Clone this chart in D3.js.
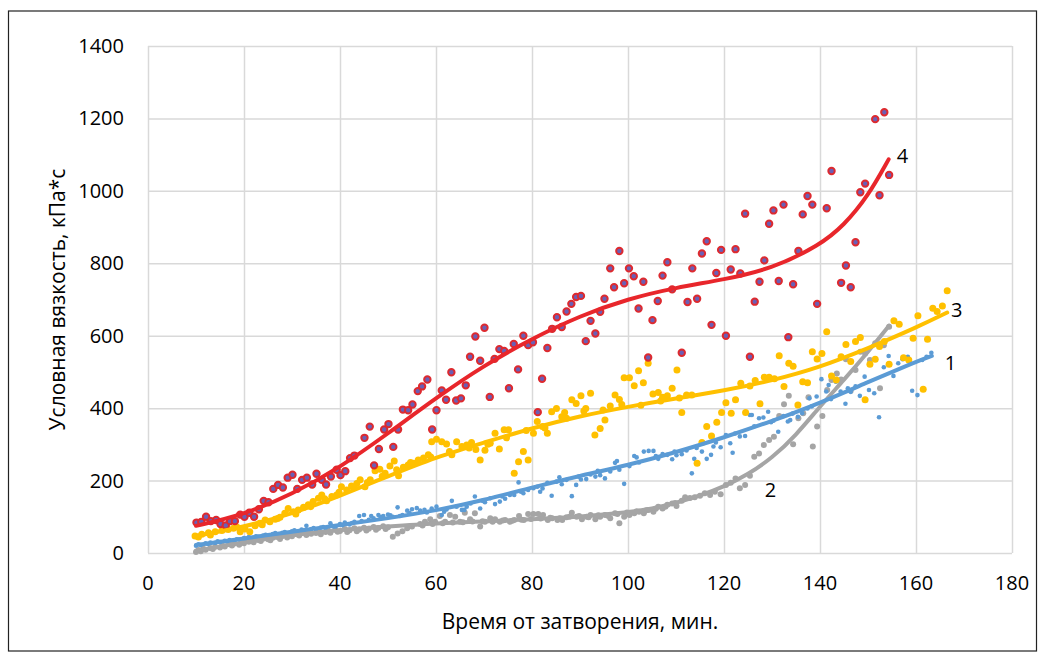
<!DOCTYPE html>
<html>
<head>
<meta charset="utf-8">
<script src="https://cdn.jsdelivr.net/npm/d3@7/dist/d3.min.js"></script>
<style>
  body { margin: 0; background: #fff; }
  svg { font-family: "Open Sans", sans-serif; }
  .grid line { stroke: #d9d9d9; stroke-width: 1.5; }
  .grid .domain { display: none; }
  .tick-label { font-size: 20px; fill: #000; }
  .title { font-size: 21px; fill: #000; }
</style>
</head>
<body>
<svg id="chart" width="1046" height="662"></svg>
<script>
// series 1 (blue)
var s1x = [10,10.5,11,12,12.5,13,14,14.5,15,16,16.5,17,18,18.5,19,20,20.5,21,22,22.5,23,24,24.5,25,26,26.5,27,28,28.5,29,30,30.5,31,32,32.5,33,34,34.5,35,36,36.5,37,38,38.5,39,40,40.5,41,42,42.5,43,44,44.5,45,46,46.5,47,48,48.5,49,50,50.5,51,52,52.5,53,54,54.5,55,56,
  56.7,57.6,58.1,59.1,60.1,61.2,61.7,62.2,63.3,64.3,65.4,65.9,66.4,67.2,68.1,69.2,69.7,70.2,71.3,72.3,73.3,73.8,74.4,75.4,76.3,77.2,77.7,78.2,79.2,80.3,81.1,81.7,82.2,83.2,84.1,85.1,85.7,86.2,87.2,88.3,89.2,89.7,90.2,91.3,92.2,93.2,93.7,94.2,95.2,96.3,97.3,97.7,98.2,99.2,100.3,101.3,101.8,102.3,103.3,104.3,105.3,105.8,106.3,107.2,108.2,109.2,109.7,110.1,111.2,112.2,113.3,113.8,114.3,115.4,116.4,117.3,117.8,118.3,119.3,120.4,121.3,121.8,122.3,123.3,124.4,125.4,125.8,126.3,127.3,128.2,129.2,129.8,130.3,131.3,132.4,133.3,133.8,134.3,135.4,136.3,137.4,137.8,138.3,139.3,140.3,141.3,141.8,142.3,143.3,144.3,145.3,145.8,146.4,147.4,148.3,149.3,150.2,151.3,152.3,153.3,154.3,155.3,156.3,157.2,158.3,159.2,160.3,161.3,162.2,163.2];
var s1y = [20,24,22,27,25,29,28,32,30,34,31,36,35,38,37,41,39,44,42,46,45,48,50,47,52,55,51,56,58,54,60,63,58,65,62,75,66,69,64,70,72,68,82,74,71,80,77,84,79,83,86,102,88,105,92,102,96,105,99,102,106,104,100,126,102,105,117,110,121,124,117,
  119,112,123,128,105,114,120,144,128,119,119,128,137,156,123,144,140,151,135,142,156,150,160,160,195,169,165,174,179,183,169,178,194,158,197,209,190,202,157,188,211,203,204,217,211,227,215,206,225,249,254,230,191,240,268,264,250,280,282,282,268,260,273,271,259,280,270,273,283,220,260,290,280,260,271,294,305,292,326,303,277,330,322,323,381,381,350,372,374,390,361,365,335,378,363,367,385,376,386,399,427,405,432,480,446,464,425,473,446,412,455,445,460,434,487,450,441,375,513,544,489,524,535,542,448,436,533,542,553,524];

// series 2 (grey)
var s2x = [10,10.5,11,11.5,12,13,13.5,14,15,15.5,16,17,17.5,18,19,19.5,20,21,21.5,22,23,23.5,24,25,25.5,26,27,27.5,28,29,29.5,30,31,31.5,32,33,33.5,34,35,35.5,36,37,37.5,38,39,39.5,40,41,41.5,42,43,43.5,44,45,45.5,46,47,47.5,48,49,49.5,50,51,52,53,54,55,
  56.7,57.2,57.7,58.8,59.3,59.8,60.8,61.4,61.9,62.9,63.5,64,65,65.6,66,67.1,67.6,68.1,69.2,69.7,70.2,71.3,71.8,72.3,73.3,73.9,74.4,75.4,75.9,76.3,77.3,77.8,78.3,79.2,79.8,80.3,81.3,81.8,82.3,83.3,83.8,84.2,85.3,85.8,86.3,87.2,87.8,88.3,89.3,89.8,90.4,91.4,91.8,92.2,93.2,93.8,94.2,95.2,95.8,96.3,97.3,97.8,98.2,99.2,99.8,100.3,101.3,101.8,102.3,103.3,103.8,104.3,105.3,105.8,106.3,107.2,107.8,108.2,109.2,109.8,110.1,111.2,111.9,112.9,113.9,115,116,117.1,118.1,119.3,120.4,121.4,122.4,123.3,124.4,125.4,126.3,127.3,128.3,129.4,130.4,131.5,132.5,133.5,134.4,135.5,136.5,137.6,138.5,139.4,140.5,141.5,142.4,143.5,144.4,145.4,146.4,147.4,148.4,149.4,150.4,151.5,152.5,153.3,154.4];
var s2y = [3,8,5,12,9,14,11,17,15,20,18,24,21,26,23,29,27,31,35,30,36,33,40,38,35,42,44,39,47,43,49,46,52,48,55,50,57,53,55,60,52,58,62,56,64,59,61,66,58,63,68,60,65,70,62,67,72,64,69,74,66,71,45,54,60,68,73,
  80,76,86,93,80,86,102,82,86,105,84,100,86,85,111,93,87,110,73,88,86,96,86,93,86,90,91,86,89,91,102,92,91,108,94,108,108,95,105,91,97,96,91,96,91,99,100,111,100,102,93,100,99,105,93,104,100,105,103,96,110,108,82,100,112,105,110,115,114,110,118,119,114,122,128,123,128,133,137,138,130,144,154,152,154,158,165,160,169,162,188,194,206,179,188,213,266,275,298,312,321,378,411,434,300,372,386,430,294,349,378,450,478,496,479,535,448,505,556,551,533,579,455,574,625];

// series 3 (yellow)
var s3x = [9.8,10.5,11.2,12.6,13,14,15.4,16.7,17.8,18.5,19.2,20.2,21.2,22.3,23.3,23.8,24.4,25.4,26.5,27,27.5,28.5,29.2,30.3,30.8,31.3,32.4,33.4,33.9,34.4,35.5,36.2,36.8,37.2,38.3,39.3,39.8,40.3,41.4,42.4,42.9,43.5,44.2,45.2,45.7,46.3,47.3,48.3,48.8,49.4,50.4,51.3,51.8,52.2,53.2,54.2,54.7,55.3,56.3,57.4,58.4,58.9,59.1,60.1,61.2,62.2,62.8,63.3,64.3,65.4,66.4,66.9,67.4,68.3,69.2,70.2,70.8,71.3,72.3,73.2,74.2,74.7,75.1,76.3,77.2,78.2,78.8,79.2,80.3,81.1,82.2,82.7,83.2,84.1,85.1,86.2,86.8,87.2,88.3,89.2,90.2,90.8,91.2,92.2,93.1,94.2,94.8,95.2,96.3,97.3,98.2,98.7,99.2,100.3,101.3,102.2,102.7,103.2,104.2,105.2,106.3,106.8,107.2,108.2,109.2,110.2,110.7,111.2,112.2,113.3,114.4,115.4,116.4,117.4,118.5,119.5,120.4,121.5,122.4,123.5,124.5,125.4,126.5,127.5,128.4,129.4,130.5,131.5,132.5,133.5,134.4,135.4,136.4,137.4,138.4,139.4,140.4,141.4,142.4,143.4,144.4,145.4,146.4,147.4,148.4,149.4,150.4,151.5,152.4,153.4,154.4,155.4,156.5,157.4,158.5,159.4,160.4,161.5,162.4,163.5,164.4,165.5,166.5];
var s3y = [47,44,52,56,50,59,62,65,68,72,59,66,59,75,82,78,91,86,93,95,99,110,123,114,108,119,126,133,128,142,151,160,150,144,156,160,168,183,174,185,180,192,202,183,195,202,227,231,212,220,240,254,230,213,237,243,250,248,257,262,271,265,307,314,307,301,280,271,307,294,298,290,305,286,257,284,300,303,331,287,340,318,340,220,252,280,338,257,331,363,349,345,331,390,399,376,388,372,423,413,434,392,399,441,326,344,395,367,406,436,424,410,484,484,462,503,408,470,524,439,443,420,430,434,455,505,428,388,436,436,248,305,349,323,361,388,415,386,423,469,388,461,476,412,485,485,481,545,460,524,516,409,473,470,556,536,551,611,489,478,542,576,529,584,595,423,521,535,570,584,521,641,632,539,533,593,655,452,590,676,667,682,724];

// series 4 (red)
var s4x = [10.1,11.1,12.1,13.1,14.2,15.1,16.2,17.1,18.1,19.2,20.1,21.1,22.1,23.1,24.1,25.1,26.1,27.1,28.1,29.1,30.1,31.1,32.1,33.1,34.2,35.1,36.2,37.1,38.1,39.3,40.1,41.1,42.1,43,45.1,46.2,47.1,48.1,49.2,50.1,51.1,52.1,53.1,54.2,55.1,56.2,57.1,58.2,59.2,60.1,61.2,62.1,63.2,64.2,65.2,66.2,67.1,68.2,69.2,70.1,71.2,72.2,73.2,74.2,75.2,76.2,77.1,78.2,79.2,80.2,81.2,82.1,83.2,84.2,85.2,86.2,87.2,88.2,89.2,90.2,91.2,92.2,93.2,94.2,95.1,96.3,97.1,98.2,99.2,100.2,101.2,102.2,103.2,104.2,105.1,106.2,107.2,108.2,109.2,111.2,112.4,113.4,114.4,115.4,116.4,117.4,118.4,119.4,120.4,121.4,122.4,123.4,124.4,125.4,126.4,127.4,128.4,129.4,130.3,131.4,132.4,133.4,134.4,135.5,136.4,137.4,138.4,139.4,141.4,142.4,144.4,145.4,146.4,147.4,148.4,149.4,151.5,152.4,153.4,154.4];
var s4y = [84,86,100,88,91,80,76,88,88,106,100,111,100,121,144,140,177,188,181,208,216,177,202,208,189,219,202,189,211,230,215,226,262,269,318,349,242,287,341,356,293,341,396,394,410,447,460,479,341,394,449,423,499,421,427,463,542,598,531,622,431,536,563,558,455,577,507,600,574,582,389,481,566,619,651,624,667,688,707,710,585,641,606,666,702,786,734,834,745,786,764,675,749,540,643,696,766,803,728,553,693,786,702,827,861,630,773,837,600,783,839,772,937,542,694,749,808,909,946,751,962,596,742,834,935,986,962,688,952,1055,746,794,734,858,996,1020,1198,988,1217,1044];

// trend lines
var t1x = [10,20,30,40,50,60,70,80,90,100,110,120,130,140,150,160,163.3];
var t1y = [22,40,59,77,96,117,146,181,213,243,278,319,364,414,472,528,544];
var t2x = [10,20,30,40,50,60,70,80,90,100,105,110,115,120,125,130,135,140,145,150,154.4];
var t2y = [6,30,50,64,73,82,87,93,100,112,122,138,158,183,217,262,325,405,478,555,628];
var t3x = [10,20,30,40,50,60,70,80,90,100,110,120,130,140,150,160,166.5];
var t3y = [47,72,108,158,212,265,305,345,378,404,427,448,476,513,565,622,664];
var t4x = [10,20,30,40,50,60,70,80,90,100,110,120,130,140,145,150,154.3];
var t4y = [75,106,162,236,330,428,518,592,655,702,733,755,785,850,905,985,1087];

var curveNames = ["1","2","3","4"];
var labelX = [166,128.5,167.3,156];
var labelY = [505,155,652,1077];

var xTicks = [0,20,40,60,80,100,120,140,160,180];
var yTicks = [0,200,400,600,800,1000,1200,1400];

var svg = d3.select("#chart"),
    margin = {top: 46, right: 34, bottom: 109, left: 148},
    width = +svg.attr("width") - margin.left - margin.right,
    height = +svg.attr("height") - margin.top - margin.bottom;

svg.append("rect")
    .attr("x", 8.5).attr("y", 11)
    .attr("width", 1028).attr("height", 640)
    .attr("fill", "none").attr("stroke", "#222").attr("stroke-width", 1.2);

var x = d3.scaleLinear().domain([0, 180]).range([0, width]),
    y = d3.scaleLinear().domain([0, 1400]).range([height, 0]);

var g = svg.append("g")
    .attr("transform", "translate(" + margin.left + "," + margin.top + ")");

// grid
g.append("g")
    .attr("class", "grid")
    .attr("transform", "translate(0," + height + ")")
    .call(d3.axisBottom(x).tickValues(xTicks).tickSize(-height).tickFormat(""));
g.append("g")
    .attr("class", "grid")
    .call(d3.axisLeft(y).tickValues(yTicks).tickSize(-width).tickFormat(""));

// tick labels
g.selectAll(".xlab")
  .data(xTicks)
  .enter().append("text")
    .attr("class", "tick-label")
    .attr("x", function(d) { return x(d); })
    .attr("y", height + 37)
    .attr("text-anchor", "middle")
    .text(function(d) { return d; });

g.selectAll(".ylab")
  .data(yTicks)
  .enter().append("text")
    .attr("class", "tick-label")
    .attr("x", -24)
    .attr("y", function(d) { return y(d); })
    .attr("dy", "0.35em")
    .attr("text-anchor", "end")
    .text(function(d) { return d; });

// axis titles
svg.append("text")
    .attr("class", "title")
    .attr("x", margin.left + width / 2)
    .attr("y", 629)
    .attr("text-anchor", "middle")
    .text("Время от затворения, мин.");

svg.append("text")
    .attr("class", "title")
    .attr("transform", "translate(65," + (margin.top + height / 2) + ") rotate(-90)")
    .attr("text-anchor", "middle")
    .text("Условная вязкость, кПа*с");

function pts(xs, ys) {
  return xs.map(function(v, i) { return [v, ys[i]]; });
}

var line = d3.line()
    .x(function(d) { return x(d[0]); })
    .y(function(d) { return y(d[1]); })
    .curve(d3.curveBasis);

// scatter
g.selectAll(".p2").data(pts(s2x, s2y)).enter().append("circle")
    .attr("cx", function(d) { return x(d[0]); })
    .attr("cy", function(d) { return y(d[1]); })
    .attr("r", 3).attr("fill", "#a5a5a5");
g.selectAll(".p1").data(pts(s1x, s1y)).enter().append("circle")
    .attr("cx", function(d) { return x(d[0]); })
    .attr("cy", function(d) { return y(d[1]); })
    .attr("r", 2.3).attr("fill", "#5b9bd5");
g.selectAll(".p3").data(pts(s3x, s3y)).enter().append("circle")
    .attr("cx", function(d) { return x(d[0]); })
    .attr("cy", function(d) { return y(d[1]); })
    .attr("r", 3.5).attr("fill", "#ffc000");
g.selectAll(".p4").data(pts(s4x, s4y)).enter().append("circle")
    .attr("cx", function(d) { return x(d[0]); })
    .attr("cy", function(d) { return y(d[1]); })
    .attr("r", 3.2).attr("fill", "#6a5fb5")
    .attr("stroke", "#dd2a2f").attr("stroke-width", 2);

// trend lines
var trends = [
  {p: pts(t2x, t2y), c: "#a5a5a5"},
  {p: pts(t1x, t1y), c: "#5b9bd5"},
  {p: pts(t3x, t3y), c: "#ffc000"},
  {p: pts(t4x, t4y), c: "#e8262b"}
];
trends.forEach(function(t) {
  g.append("path")
      .datum(t.p)
      .attr("fill", "none")
      .attr("stroke", t.c)
      .attr("stroke-width", 4)
      .attr("stroke-linecap", "round")
      .attr("d", line);
});

// curve numbers
g.selectAll(".cname")
  .data(curveNames)
  .enter().append("text")
    .attr("class", "tick-label")
    .attr("x", function(d, i) { return x(labelX[i]); })
    .attr("y", function(d, i) { return y(labelY[i]); })
    .text(function(d) { return d; });
</script>
</body>
</html>
